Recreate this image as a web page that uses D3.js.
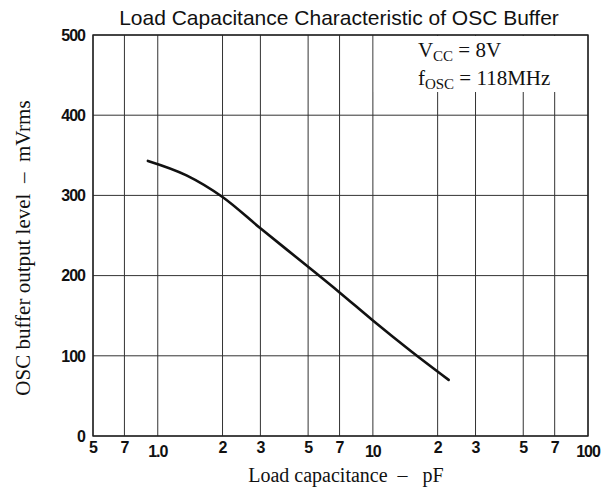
<!DOCTYPE html>
<meta charset="utf-8">
<script src="https://d3js.org/d3.v7.min.js"></script>
<style>
body { margin: 0; background: #fff; }
.tick-num { font-family: "Liberation Sans", Arial, sans-serif; font-size: 16px; font-weight: bold; fill: #111; letter-spacing: -1px; }
.serif { font-family: "Liberation Serif", "Times New Roman", serif; fill: #111; }
</style>
<div id="my_dataviz"></div>
<script>

// curve: load capacitance (pF) vs output level (mVrms)
var capacitance = [0.9, 1.36, 2, 3, 5, 7, 10, 15, 22.5];
var level = [343, 325, 298, 259, 211, 179, 144, 106, 70];

// axes
var xTicks = [0.5, 0.7, 1, 2, 3, 5, 7, 10, 20, 30, 50, 70, 100];
var xTickLabels = ["5", "7", "1.0", "2", "3", "5", "7", "10", "2", "3", "5", "7", "100"];
var yTicks = [0, 100, 200, 300, 400, 500];

var margin = {top: 35, right: 15, bottom: 52, left: 93},
    width = 603 - margin.left - margin.right,
    height = 488 - margin.top - margin.bottom;

var svg = d3.select("#my_dataviz")
  .append("svg")
    .attr("width", 603)
    .attr("height", 488);

var g = svg.append("g")
    .attr("transform", "translate(" + margin.left + "," + margin.top + ")");

var x = d3.scaleLog()
  .domain([0.5, 100])
  .range([0, width]);

var y = d3.scaleLinear()
  .domain([0, 500])
  .range([height, 0]);

// grid lines
g.append("g")
  .selectAll("line")
  .data(yTicks)
  .enter()
  .append("line")
    .attr("x1", 0)
    .attr("x2", width)
    .attr("y1", function(d) { return y(d); })
    .attr("y2", function(d) { return y(d); })
    .attr("stroke", "#333")
    .attr("stroke-width", 1);

g.append("g")
  .selectAll("line")
  .data(xTicks)
  .enter()
  .append("line")
    .attr("x1", function(d) { return x(d); })
    .attr("x2", function(d) { return x(d); })
    .attr("y1", 0)
    .attr("y2", height)
    .attr("stroke", "#333")
    .attr("stroke-width", 1);

// blank box behind the conditions text
g.append("rect")
  .attr("x", x(10) + 1)
  .attr("y", 1)
  .attr("width", width - x(10) - 2)
  .attr("height", 56)
  .attr("fill", "#fff");

// frame
g.append("rect")
  .attr("x", 0)
  .attr("y", 0)
  .attr("width", width)
  .attr("height", height)
  .attr("fill", "none")
  .attr("stroke", "#222")
  .attr("stroke-width", 1.4);

// tick labels
g.append("g")
  .selectAll("text")
  .data(yTicks)
  .enter()
  .append("text")
    .attr("class", "tick-num")
    .attr("x", -8)
    .attr("y", function(d) { return y(d); })
    .attr("dy", "0.36em")
    .attr("text-anchor", "end")
    .text(function(d) { return d; });

g.append("g")
  .selectAll("text")
  .data(xTicks)
  .enter()
  .append("text")
    .attr("class", "tick-num")
    .attr("x", function(d) { return x(d); })
    .attr("y", function(d, i) { return height + (xTickLabels[i].charAt(0) == "1" ? 21 : 17); })
    .attr("text-anchor", "middle")
    .text(function(d, i) { return xTickLabels[i]; });

// the curve
var pts = capacitance.map(function(c, i) { return [c, level[i]]; });
g.append("path")
  .datum(pts)
  .attr("fill", "none")
  .attr("stroke", "#111")
  .attr("stroke-width", 2.6)
  .attr("stroke-linecap", "round")
  .attr("d", d3.line()
    .curve(d3.curveMonotoneX)
    .x(function(d) { return x(d[0]); })
    .y(function(d) { return y(d[1]); }));

// conditions
var cond = g.append("text")
  .attr("class", "serif")
  .attr("x", x(10) + 45)
  .attr("y", 22)
  .style("font-size", "21px");
cond.append("tspan").text("V");
cond.append("tspan").attr("dy", 4).style("font-size", "15px").text("CC");
cond.append("tspan").attr("dy", -4).text(" = 8V");

var cond2 = g.append("text")
  .attr("class", "serif")
  .attr("x", x(10) + 45)
  .attr("y", 50)
  .style("font-size", "21px");
cond2.append("tspan").text("f");
cond2.append("tspan").attr("dy", 4).style("font-size", "15px").text("OSC");
cond2.append("tspan").attr("dy", -4).text(" = 118MHz");

// titles
svg.append("text")
  .attr("x", 339)
  .attr("y", 25)
  .attr("text-anchor", "middle")
  .style("font-family", "Liberation Sans, Arial, sans-serif")
  .style("font-size", "21px")
  .style("fill", "#111")
  .text("Load Capacitance Characteristic of OSC Buffer");

svg.append("text")
  .attr("class", "serif")
  .attr("x", 346)
  .attr("y", 482)
  .attr("text-anchor", "middle")
  .style("font-size", "20px")
  .attr("xml:space", "preserve")
  .text("Load capacitance  \u2013   pF");

svg.append("text")
  .attr("class", "serif")
  .attr("transform", "translate(30,248) rotate(-90)")
  .attr("text-anchor", "middle")
  .style("font-size", "21px")
  .attr("xml:space", "preserve")
  .text("OSC buffer output level  \u2013  mVrms");

</script>
